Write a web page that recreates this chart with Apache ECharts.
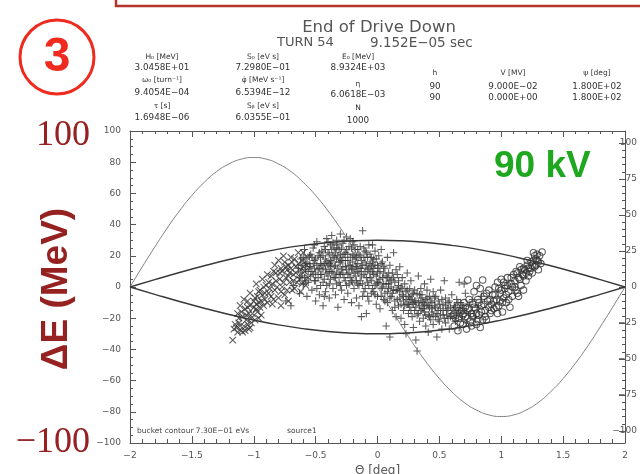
<!DOCTYPE html>
<html>
<head>
<meta charset="utf-8">
<script src="https://cdn.jsdelivr.net/npm/echarts@6/dist/echarts.min.js"></script>
<style>
  html, body { margin: 0; padding: 0; background: #ffffff; }
  #chart { width: 640px; height: 474px; }
</style>
</head>
<body>
<div id="chart"></div>
<script>
// Phase coordinate axis (deg) and energy offset axes (MeV)
const thetaTicks = [-2, -1.5, -1, -0.5, 0, 0.5, 1, 1.5, 2];
const leftTicks = [-100, -80, -60, -40, -20, 0, 20, 40, 60, 80, 100];
const rightTicks = [-100, -75, -50, -25, 0, 25, 50, 75, 100];
const rightMinorTicks = [-95, -90, -85, -80, -70, -65, -60, -55, -45, -40, -35, -30,
                         -20, -15, -10, -5, 5, 10, 15, 20, 30, 35, 40, 45,
                         55, 60, 65, 70, 80, 85, 90, 95];
const rightRange = [-108.3, 108.3];

// Bucket contour (separatrix), upper and lower branches
const bucketTheta = [-2, -1.8, -1.6, -1.4, -1.2, -1.0, -0.8, -0.6, -0.4, -0.2, 0,
                     0.2, 0.4, 0.6, 0.8, 1.0, 1.2, 1.4, 1.6, 1.8, 2];
const bucketUpper = [0, 4.7, 9.3, 13.6, 17.6, 21.2, 24.3, 26.7, 28.5, 29.6, 30,
                     29.6, 28.5, 26.7, 24.3, 21.2, 17.6, 13.6, 9.3, 4.7, 0];
const bucketLower = [0, -4.7, -9.3, -13.6, -17.6, -21.2, -24.3, -26.7, -28.5, -29.6, -30,
                     -29.6, -28.5, -26.7, -24.3, -21.2, -17.6, -13.6, -9.3, -4.7, 0];

// RF waveform trace
const rfTheta = [-2, -1.9, -1.8, -1.7, -1.6, -1.5, -1.4, -1.3, -1.2, -1.1, -1.0,
                 -0.9, -0.8, -0.7, -0.6, -0.5, -0.4, -0.3, -0.2, -0.1, 0,
                 0.1, 0.2, 0.3, 0.4, 0.5, 0.6, 0.7, 0.8, 0.9, 1.0,
                 1.1, 1.2, 1.3, 1.4, 1.5, 1.6, 1.7, 1.8, 1.9, 2];
const rfWave = [0, 13.0, 25.6, 37.7, 48.8, 58.7, 67.1, 74.0, 78.9, 82.0, 83,
                82.0, 78.9, 74.0, 67.1, 58.7, 48.8, 37.7, 25.6, 13.0, 0,
                -13.0, -25.6, -37.7, -48.8, -58.7, -67.1, -74.0, -78.9, -82.0, -83,
                -82.0, -78.9, -74.0, -67.1, -58.7, -48.8, -37.7, -25.6, -13.0, 0];

// Macro-particles, [theta, dE], grouped by marker type
const crossParticles = [
  [-1.17,-34],[-1.16,-27],[-1.13,-29],[-1.10,-28],[-1.07,-28],[-1.04,-27],[-1.15,-24],[-1.12,-23],
  [-1.08,-25],[-1.02,-23],[-0.99,-21],
  [-1.13,-17],[-1.11,-12],[-1.09,-19],[-1.07,-14],[-1.05,-9],[-1.04,-17],[-1.02,-20],[-1.00,-13],
  [-0.99,-7],[-0.97,-16],[-0.96,-10],[-0.94,-18],[-0.93,-5],[-1.08,-8],[-1.03,-4],[-0.98,-11],
  [-1.06,-21],[-0.95,-13],
  [-0.98,2],[-0.96,-3],[-0.93,5],[-0.91,-8],[-0.90,1],[-0.88,-4],[-0.86,7],[-0.85,-11],[-0.83,-2],
  [-0.82,4],[-0.80,-7],[-0.79,9],[-0.77,0],[-0.75,-5],[-0.74,6],[-0.72,-9],[-0.71,3],[-0.69,-2],
  [-0.92,-12],[-0.87,-1],[-0.84,10],[-0.78,-12],[-0.73,11],[-0.89,8],
  [-0.83,14],[-0.80,17],[-0.78,12],[-0.76,20],[-0.75,16],[-0.72,14],[-0.70,19],[-0.68,8],[-0.66,13],
  [-0.64,22],[-0.63,5],[-0.61,17],[-0.60,22],[-0.59,10],[-0.58,1],[-0.57,14],[-0.67,-1],[-0.62,-3],
  [-0.71,9],[-0.65,3],
  [-1.14,-26],[-1.11,-25],[-1.09,-29],[-1.05,-24],[-1.03,-26],[-1.12,-20],[-1.10,-16],[-1.06,-18],
  [-1.03,-12],[-1.01,-17],[-0.98,-14],[-0.96,-20],[-1.05,-13],[-1.00,-9],[-0.97,-6],[-0.95,-2],
  [-0.94,-9],[-0.92,0],[-0.91,-4],[-0.89,-10],[-0.88,3],[-0.86,-6],[-0.85,2],[-0.84,-8],[-0.82,9],
  [-0.81,0],[-0.79,5],[-0.78,-3],[-0.77,10],[-0.76,3],[-0.74,13],[-0.73,-2],[-0.72,7],[-0.70,12],
  [-0.69,16],[-0.68,4],[-0.67,18],[-0.66,9],[-0.64,15],[-0.62,11],[-0.61,2],[-0.60,13],[-0.57,19],
  [-0.56,6]
];

const plusParticles = [
  [-0.74,-9],[-0.70,-12],[-0.68,1],
  [-0.64,12],[-0.63,-4],[-0.62,18],[-0.61,7],[-0.60,2],[-0.59,24],[-0.58,15],[-0.57,-6],[-0.56,10],
  [-0.55,20],[-0.63,6],[-0.58,4],
  [-0.54,13],[-0.53,-2],[-0.52,25],[-0.52,8],[-0.51,17],[-0.50,-9],[-0.50,4],[-0.49,29],[-0.48,11],
  [-0.48,20],[-0.47,-5],[-0.46,15],[-0.46,1],[-0.45,23],[-0.45,8],[-0.53,19],[-0.49,-1],[-0.51,27],
  [-0.44,12],[-0.44,-12],[-0.43,26],[-0.43,5],[-0.42,18],[-0.42,-3],[-0.41,31],[-0.41,9],[-0.40,22],
  [-0.40,14],[-0.39,-7],[-0.39,2],[-0.38,27],[-0.38,17],[-0.37,10],[-0.37,33],[-0.36,-1],[-0.36,20],
  [-0.35,6],[-0.35,25],[-0.42,11],[-0.39,15],
  [-0.34,14],[-0.34,-5],[-0.33,30],[-0.33,9],[-0.32,20],[-0.32,-13],[-0.31,24],[-0.31,3],[-0.30,16],
  [-0.30,34],[-0.29,11],[-0.29,-2],[-0.28,28],[-0.28,19],[-0.27,6],[-0.27,-8],[-0.26,22],[-0.26,13],
  [-0.25,1],[-0.25,32],[-0.30,8],[-0.33,18],
  [-0.24,17],[-0.24,-4],[-0.23,26],[-0.23,9],[-0.22,31],[-0.22,14],[-0.21,-10],[-0.21,4],[-0.20,21],
  [-0.20,11],[-0.19,-1],[-0.19,27],[-0.18,7],[-0.18,18],[-0.17,-7],[-0.17,13],[-0.16,24],[-0.16,2],
  [-0.15,9],[-0.15,-12],[-0.20,29],
  [-0.14,20],[-0.14,4],[-0.13,-19],[-0.13,12],[-0.12,36],[-0.12,-6],[-0.11,25],[-0.11,8],[-0.10,16],
  [-0.10,-1],[-0.09,22],[-0.09,-17],[-0.08,11],[-0.08,3],[-0.07,27],[-0.07,-9],[-0.06,15],[-0.06,6],
  [-0.05,19],[-0.05,-4],
  [-0.04,27],[-0.04,10],[-0.03,-3],[-0.03,18],[-0.02,1],[-0.02,23],[-0.01,-11],[-0.01,7],[0.00,14],
  [0.00,-6],[0.01,20],[0.01,3],[0.02,-14],[0.02,10],[0.03,24],[0.03,-1],[0.04,6],[0.04,16],[0.05,-8],
  [0.05,2],
  [0.06,12],[0.06,-4],[0.07,-25],[0.07,7],[0.08,19],[0.08,-10],[0.09,2],[0.09,-1],[0.10,-32],[0.10,14],
  [0.11,-6],[0.11,5],[0.12,9],[0.12,-15],[0.13,-2],[0.13,22],[0.14,-9],[0.14,3],[0.15,11],[0.15,-19],
  [0.16,-2],[0.16,8],[0.17,-12],[0.17,4],[0.18,13],[0.18,-7],[0.19,-20],[0.19,0],[0.20,-5],[0.20,6],
  [0.21,-15],[0.21,-9],[0.22,2],[0.22,-24],[0.23,-3],[0.23,-30],[0.24,-11],[0.24,9],[0.25,-6],[0.25,-17],
  [0.26,-1],[0.26,-13],[0.27,-8],[0.27,4],[0.28,-19],[0.28,-5],[0.29,-11],[0.29,-26],[0.30,-2],[0.30,-15],
  [0.31,-34],[0.31,-9],[0.32,-41],[0.32,-4],[0.33,-17],[0.33,7],[0.34,-12],[0.34,-22],[0.35,-7],[0.35,-1],
  [0.36,-14],[0.36,-5],[0.37,-20],[0.37,-10],[0.38,2],[0.38,-16],[0.39,-25],[0.39,-8],[0.40,-12],[0.40,-2],
  [0.41,-18],[0.41,-29],[0.42,-6],[0.42,-13],[0.43,5],[0.43,-21],[0.44,-10],[0.44,-16],[0.45,-3],[0.45,-24],
  [0.46,-12],[0.47,-19],[0.47,-6],[0.48,-32],[0.49,-15],[0.49,-9],[0.50,-22],[0.51,-2],[0.51,-14],[0.52,-27],
  [0.53,-11],[0.53,-18],[0.54,4],[0.55,-7],[0.55,-23],[0.56,-15],[0.57,-20],[0.57,-10],[0.58,-27],[0.59,-13],
  [0.60,-17],[0.60,-5],
  [0.62,-12],[0.63,-22],[0.64,-8],[0.65,-16],[0.66,-26],[0.67,-10],[0.68,-19],[0.70,-14],[0.71,-4],
  [0.72,-23],[0.74,-11],[0.75,-17],[0.77,-8],[0.79,-20],[0.81,-13],[0.84,-6],[0.66,3],[0.70,2],
  [-0.62,9],[-0.61,14],[-0.60,19],[-0.59,6],[-0.58,11],[-0.57,16],[-0.56,3],[-0.55,13],[-0.54,7],
  [-0.54,21],[-0.53,10],[-0.52,15],[-0.51,4],[-0.51,12],[-0.50,18],[-0.50,9],[-0.49,14],[-0.48,6],
  [-0.47,22],[-0.47,12],[-0.46,19],[-0.46,8],[-0.45,14],[-0.44,3],[-0.44,20],[-0.43,15],[-0.43,-6],
  [-0.42,24],[-0.41,16],[-0.41,1],
  [-0.40,7],[-0.40,29],[-0.39,21],[-0.39,10],[-0.38,5],[-0.38,13],[-0.37,24],[-0.37,16],[-0.36,9],
  [-0.36,28],[-0.35,13],[-0.35,19],[-0.34,22],[-0.34,6],[-0.33,25],[-0.33,2],[-0.32,12],[-0.32,27],
  [-0.31,16],[-0.31,8],[-0.30,21],[-0.30,1],[-0.29,17],[-0.29,25],[-0.28,9],[-0.28,13],[-0.27,21],
  [-0.27,30],[-0.26,4],[-0.26,17],[-0.25,11],[-0.25,24],[-0.24,8],[-0.24,21],[-0.23,14],[-0.23,2],
  [-0.22,19],[-0.22,6],[-0.21,25],[-0.21,12],
  [-0.20,16],[-0.20,3],[-0.19,9],[-0.19,20],[-0.18,13],[-0.18,24],[-0.17,4],[-0.17,19],[-0.16,10],
  [-0.16,15],[-0.15,21],[-0.15,1],[-0.14,12],[-0.14,26],[-0.13,7],[-0.13,17],[-0.12,14],[-0.12,2],
  [-0.11,19],[-0.11,-3],[-0.10,10],[-0.10,23],[-0.09,6],[-0.09,14],[-0.08,19],[-0.08,-6],[-0.07,12],
  [-0.07,1],[-0.06,21],[-0.06,9],[-0.05,13],[-0.05,4],[-0.04,16],[-0.04,-1],[-0.03,8],[-0.03,12],
  [-0.02,14],[-0.02,-5],[-0.01,18],[-0.01,2],
  [0.00,9],[0.00,3],[0.01,12],[0.02,5],[0.03,-6],[0.03,15],[0.04,0],[0.05,9],[0.05,13],[0.06,-9],
  [0.07,2],[0.08,6],[0.08,-3],[0.09,9],[0.10,-7],[0.10,4],[0.11,0],[0.12,-4],[0.13,6],[0.14,-13],
  [0.15,-2],[0.16,-8],[0.17,1],[0.18,-3],[0.19,-11],[0.20,-1],[0.21,-6],[0.22,-12],[0.23,-8],[0.24,-2],
  [0.25,-11],[0.26,-7],[0.27,-15],[0.28,-10],[0.29,-4],
  [0.30,-9],[0.31,-13],[0.32,-18],[0.33,-10],[0.34,-5],[0.35,-15],[0.36,-9],[0.37,-14],[0.38,-11],
  [0.39,-18],[0.40,-7],[0.41,-12],[0.42,-19],[0.43,-9],[0.44,-14],[0.45,-18],[0.46,-7],[0.47,-13],
  [0.48,-17],[0.49,-21],[0.50,-11],[0.51,-18],[0.52,-8],[0.53,-15],[0.54,-20],[0.55,-12],[0.56,-18],
  [0.57,-14],[0.58,-9],[0.59,-19],[0.61,-15],[0.62,-20],[0.63,-13],[0.64,-18],[0.65,-10],[0.67,-15],
  [0.69,-12],[0.72,-16]
];

const circleParticles = [
  [0.61,-18],[0.62,-25],[0.64,-13],[0.65,-28],[0.66,-20],[0.68,-15],[0.69,-24],[0.70,-10],[0.71,-19],
  [0.72,-27],[0.73,4.5],[0.74,-14],[0.75,-22],[0.76,-17],[0.77,-11],
  [0.78,-3],[0.79,-14],[0.80,-24],[0.81,-8],[0.82,-18],[0.83,-1],[0.84,-12],[0.85,4.5],[0.85,-21],
  [0.86,-6],[0.87,-15],[0.88,-21],[0.89,-9],[0.90,-2],[0.91,-17],[0.92,-11],[0.93,-5],[0.80,1],[0.83,-26],
  [0.94,-14],[0.95,0],[0.96,-8],[0.97,3],[0.98,-12],[0.99,-4],[1.00,5],[1.01,-16],[1.02,-7],[1.03,1],
  [1.04,-10],[1.05,6],[1.06,-3],[1.07,-13],[1.08,2],[1.09,-6],[1.10,8],[0.97,-17],[1.03,-1],
  [1.11,0],[1.12,10],[1.13,-4],[1.14,6],[1.15,13],[1.16,1],[1.17,8],[1.18,-2],[1.19,11],[1.20,4],
  [1.21,14],[1.22,7],[1.23,10],[1.14,-6],[1.18,12],
  [1.24,16],[1.25,9],[1.26,22],[1.27,13],[1.28,18],[1.29,17],[1.30,11],[1.31,20],[1.33,22.5],[1.32,15],
  [1.27,20],[1.25,14],
  [0.63,-20],[0.66,-15],[0.67,-23],[0.69,-18],[0.71,-13],[0.73,-20],[0.74,-8],[0.76,-25],[0.77,-19],
  [0.78,-13],[0.80,-17],[0.81,-21],[0.82,-10],[0.84,-16],[0.86,-11],[0.87,-19],[0.88,-4],[0.90,-13],
  [0.91,-8],[0.92,-15],[0.94,-9],[0.95,-5],[0.96,-13],[0.98,-1],[0.99,-9],[1.00,-2],[1.01,-10],
  [1.02,3],[1.04,-5],[1.05,1],[1.06,-8],[1.08,6],[1.09,0],[1.11,4],[1.12,-2],[1.13,9],[1.15,5],
  [1.16,11],[1.18,7],[1.20,9],[1.21,17],[1.22,12],[1.24,12],[1.26,17],[1.28,14],[1.29,21],[1.30,16]
];

const axisColor = '#555555';
const markColor = '#333333';
const labelFont = 'DejaVu Sans';
const fmt = v => String(v).replace('-', '\u2212');

const chart = echarts.init(document.getElementById('chart'), null, { renderer: 'canvas' });

const hollow = { color: 'rgba(0,0,0,0)', borderColor: markColor, borderWidth: 1.05 };

function tableText(x, y, text, size) {
  return {
    type: 'text', x: x, y: y, silent: true,
    style: { text: text, align: 'center', verticalAlign: 'middle',
             font: (size || 8.8) + 'px "DejaVu Sans", sans-serif', fill: '#333333' }
  };
}

chart.setOption({
  animation: false,
  backgroundColor: '#ffffff',
  grid: { left: 130, right: 15, top: 131, bottom: 31, containLabel: false, outerBoundsMode: 'none' },
  xAxis: [
    {
      type: 'value', min: thetaTicks[0], max: thetaTicks[thetaTicks.length - 1], interval: 0.5,
      name: '\u0398 [deg]', nameLocation: 'middle', nameGap: 22,
      nameTextStyle: { color: axisColor, fontSize: 12, fontFamily: labelFont },
      axisLine: { show: true, onZero: false, lineStyle: { color: axisColor, width: 1 } },
      axisTick: { show: true, inside: true, length: 7, lineStyle: { color: axisColor } },
      minorTick: { show: true, splitNumber: 5, length: 4, lineStyle: { color: axisColor } },
      axisLabel: { color: axisColor, fontSize: 9, fontFamily: labelFont, margin: 8, formatter: fmt },
      splitLine: { show: false }
    },
    {
      type: 'value', position: 'top', min: -2, max: 2, interval: 0.5,
      axisLine: { show: true, onZero: false, lineStyle: { color: axisColor, width: 1 } },
      axisTick: { show: true, inside: true, length: 6, lineStyle: { color: axisColor } },
      minorTick: { show: true, splitNumber: 5, length: 3, lineStyle: { color: axisColor } },
      axisLabel: { show: false },
      splitLine: { show: false }
    }
  ],
  yAxis: [
    {
      type: 'value', min: leftTicks[0], max: leftTicks[leftTicks.length - 1], interval: 20,
      axisLine: { show: true, onZero: false, lineStyle: { color: axisColor, width: 1 } },
      axisTick: { show: true, inside: true, length: 6, lineStyle: { color: axisColor } },
      minorTick: { show: true, splitNumber: 4, length: 3, lineStyle: { color: axisColor } },
      axisLabel: { color: axisColor, fontSize: 9, fontFamily: labelFont, margin: 9, formatter: fmt },
      splitLine: { show: false }
    },
    {
      // right-hand scale: major ticks and labels
      type: 'value', position: 'right', min: rightRange[0], max: rightRange[1],
      axisLine: { show: true, onZero: false, lineStyle: { color: axisColor, width: 1 } },
      axisTick: { show: true, inside: true, length: 6, customValues: rightTicks, lineStyle: { color: axisColor } },
      axisLabel: { color: axisColor, fontSize: 9, fontFamily: labelFont, margin: 12, align: 'right',
                   customValues: rightTicks, formatter: fmt },
      splitLine: { show: false }
    },
    {
      // right-hand scale: minor ticks
      type: 'value', position: 'right', min: rightRange[0], max: rightRange[1],
      axisLine: { show: false, onZero: false },
      axisTick: { show: true, inside: true, length: 3, customValues: rightMinorTicks, lineStyle: { color: axisColor } },
      axisLabel: { show: false },
      splitLine: { show: false }
    }
  ],
  series: [
    {
      name: 'rf', type: 'line', xAxisIndex: 0, yAxisIndex: 0, smooth: true, showSymbol: false, silent: true,
      data: rfTheta.map((t, i) => [t, rfWave[i]]),
      lineStyle: { color: '#707070', width: 0.9 }
    },
    {
      name: 'bucket upper', type: 'line', xAxisIndex: 0, yAxisIndex: 0, smooth: true, showSymbol: false, silent: true,
      data: bucketTheta.map((t, i) => [t, bucketUpper[i]]),
      lineStyle: { color: '#383838', width: 1.4 }
    },
    {
      name: 'bucket lower', type: 'line', xAxisIndex: 0, yAxisIndex: 0, smooth: true, showSymbol: false, silent: true,
      data: bucketTheta.map((t, i) => [t, bucketLower[i]]),
      lineStyle: { color: '#383838', width: 1.4 }
    },
    {
      name: 'cross', type: 'scatter', xAxisIndex: 0, yAxisIndex: 0, silent: true,
      symbol: 'path://M0,0L10,10M10,0L0,10', symbolSize: 6.5,
      data: crossParticles, itemStyle: hollow
    },
    {
      name: 'plus', type: 'scatter', xAxisIndex: 0, yAxisIndex: 0, silent: true,
      symbol: 'path://M5,0L5,10M0,5L10,5', symbolSize: 7.5,
      data: plusParticles, itemStyle: hollow
    },
    {
      name: 'circle', type: 'scatter', xAxisIndex: 0, yAxisIndex: 0, silent: true,
      symbol: 'circle', symbolSize: 6.5,
      data: circleParticles, itemStyle: hollow
    }
  ],
  graphic: [
    // frame edge along the top of the page
    { type: 'rect', silent: true, shape: { x: 116, y: -12, width: 540, height: 18 },
      style: { fill: 'none', stroke: '#b3352c', lineWidth: 2.5 } },
    // numbered badge
    { type: 'circle', silent: true, shape: { cx: 57, cy: 57, r: 37 },
      style: { fill: 'none', stroke: '#ee2b1e', lineWidth: 3 } },
    { type: 'text', silent: true, x: 57, y: 58,
      style: { text: '3', align: 'center', verticalAlign: 'middle',
               font: 'bold 48px "Liberation Sans", sans-serif', fill: '#ee2b1e' } },
    // run header
    { type: 'text', silent: true, x: 379, y: 28,
      style: { text: 'End of Drive Down', align: 'center', verticalAlign: 'middle',
               font: '16.5px "DejaVu Sans", sans-serif', fill: '#555555' } },
    { type: 'text', silent: true, x: 277, y: 43,
      style: { text: 'TURN 54', align: 'left', verticalAlign: 'middle',
               font: '13px "DejaVu Sans", sans-serif', fill: '#555555' } },
    { type: 'text', silent: true, x: 370, y: 43,
      style: { text: '9.152E\u221205 sec', align: 'left', verticalAlign: 'middle',
               font: '13.5px "DejaVu Sans", sans-serif', fill: '#555555' } },
    // beam parameter table
    tableText(162, 57, 'H\u2080 [MeV]', 7.5), tableText(162, 68, '3.0458E+01'),
    tableText(162, 80, '\u03c9\u2080 [turn\u207b\u00b9]', 7.5), tableText(162, 93, '9.4054E\u221204'),
    tableText(162, 106, '\u03c4 [s]', 7.5), tableText(162, 118, '1.6948E\u221206'),
    tableText(263, 57, 'S\u2080 [eV s]', 7.5), tableText(263, 68, '7.2980E\u221201'),
    tableText(263, 80, '\u03c6\u0307 [MeV s\u207b\u00b9]', 7.5), tableText(263, 93, '6.5394E\u221212'),
    tableText(263, 106, 'S\u1d66 [eV s]', 7.5), tableText(263, 118, '6.0355E\u221201'),
    tableText(358, 57, 'E\u2080 [MeV]', 7.5), tableText(358, 68, '8.9324E+03'),
    tableText(358, 84, '\u03b7', 7.5), tableText(358, 95, '6.0618E\u221203'),
    tableText(358, 108, 'N', 7.5), tableText(358, 121, '1000'),
    tableText(435, 73, 'h', 7.5), tableText(435, 87, '90'), tableText(435, 98, '90'),
    tableText(513, 73, 'V [MV]', 7.5), tableText(513, 87, '9.000E\u221202'), tableText(513, 98, '0.000E+00'),
    tableText(597, 73, '\u03c8 [deg]', 7.5), tableText(597, 87, '1.800E+02'), tableText(597, 98, '1.800E+02'),
    // in-plot caption
    { type: 'text', silent: true, x: 137, y: 431,
      style: { text: 'bucket contour 7.30E\u221201 eVs', align: 'left', verticalAlign: 'middle',
               font: '7.5px "DejaVu Sans", sans-serif', fill: '#444444' } },
    { type: 'text', silent: true, x: 287, y: 431,
      style: { text: 'source1', align: 'left', verticalAlign: 'middle',
               font: '7.5px "DejaVu Sans", sans-serif', fill: '#444444' } },
    // large axis annotations
    { type: 'text', silent: true, x: 90, y: 136,
      style: { text: '100', align: 'right', verticalAlign: 'middle',
               font: '36px "Liberation Serif", serif', fill: '#962121' } },
    { type: 'text', silent: true, x: 90, y: 443,
      style: { text: '\u2212100', align: 'right', verticalAlign: 'middle',
               font: '36px "Liberation Serif", serif', fill: '#962121' } },
    { type: 'text', silent: true, x: 57, y: 289, rotation: Math.PI / 2,
      style: { text: '\u0394E (MeV)', align: 'center', verticalAlign: 'middle',
               font: 'bold 37px "Liberation Sans", sans-serif', fill: '#962121' } },
    { type: 'text', silent: true, x: 494, y: 167,
      style: { text: '90 kV', align: 'left', verticalAlign: 'middle',
               font: 'bold 37px "Liberation Sans", sans-serif', fill: '#1fa81f' } }
  ]
});
</script>
</body>
</html>
